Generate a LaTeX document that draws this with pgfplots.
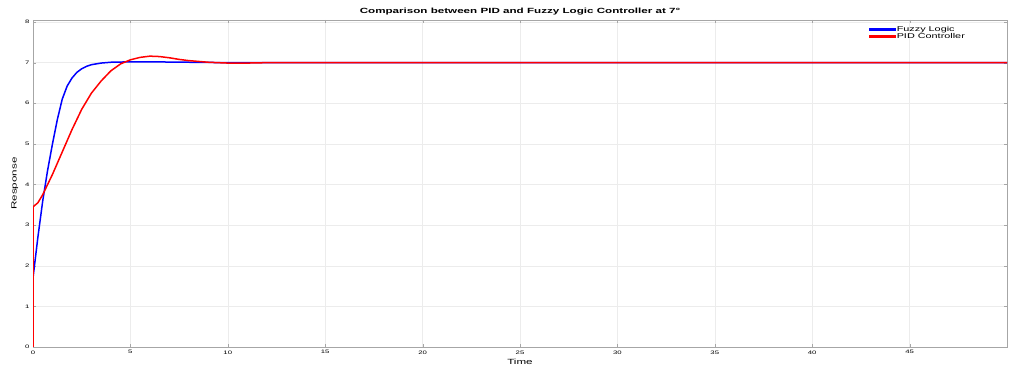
\documentclass[border=0pt]{standalone}
\usepackage{pgfplots}
\pgfplotsset{compat=1.18}
\usepackage{fontspec}
\setmainfont[FakeStretch=1.55]{Liberation Sans}
\begin{document}
\begin{tikzpicture}
\begin{axis}[
  scale only axis,
  width=974pt, height=327pt,
  xmin=0, xmax=50, ymin=0, ymax=8.05,
  xtick={0,5,...,45}, ytick={0,1,...,8},
  grid=major,
  grid style={gray!15, line width=0.4pt},
  axis line style={gray!70, line width=0.6pt},
  tick style={gray!70},
  tick align=inside,
  major tick length=3pt,
  ticklabel style={font=\fontsize{5}{6}\selectfont},
  /pgf/number format/assume math mode=true,
  xlabel={Time}, ylabel={Response},
  label style={font=\fontsize{7.5}{8}\selectfont},
  xlabel style={yshift=2pt},
  title={\textbf{Comparison between PID and Fuzzy Logic Controller at 7°}},
  title style={font=\fontsize{7.5}{8}\selectfont, yshift=-5pt},
  legend style={draw=none, fill=none,
    font=\fontsize{7}{7}\selectfont,
    at={(rel axis cs:0.958,0.985)}, anchor=north east,
    row sep=0pt, inner sep=0.5pt,
    nodes={inner sep=0.5pt}},
  legend cell align=left,
  legend image code/.code={%
    \fill[#1] (0pt,-0.75pt) rectangle (26pt,0.75pt);},
]
\addplot[color=blue, line width=1.5pt] coordinates {
 (0,0) (0,1.7) (0.25,2.7) (0.5,3.6) (0.75,4.35) (1,5.0) (1.25,5.6) (1.5,6.1)
 (1.75,6.42) (2,6.62) (2.25,6.76) (2.5,6.85) (2.75,6.91) (3,6.95) (3.5,6.99)
 (4,7.01) (5,7.02) (6,7.02) (8,7.01) (10,7.0) (20,7.0) (50,7.0)
};
\addlegendentry{Fuzzy Logic}
\addplot[color=red, line width=1.5pt] coordinates {
 (0,0) (0,3.45) (0.25,3.55) (0.5,3.75) (0.75,4.0) (1,4.25) (1.5,4.8) (2,5.35)
 (2.5,5.85) (3,6.25) (3.5,6.55) (4,6.8) (4.5,6.97) (5,7.07) (5.5,7.13) (6,7.16)
 (6.5,7.15) (7,7.12) (7.5,7.08) (8,7.05) (9,7.01) (10,6.99) (11,6.99) (12,7.0) (50,7.0)
};
\addlegendentry{PID Controller}
\end{axis}
\path (-33pt,-27pt) rectangle (976pt,347pt);
\end{tikzpicture}
\end{document}
